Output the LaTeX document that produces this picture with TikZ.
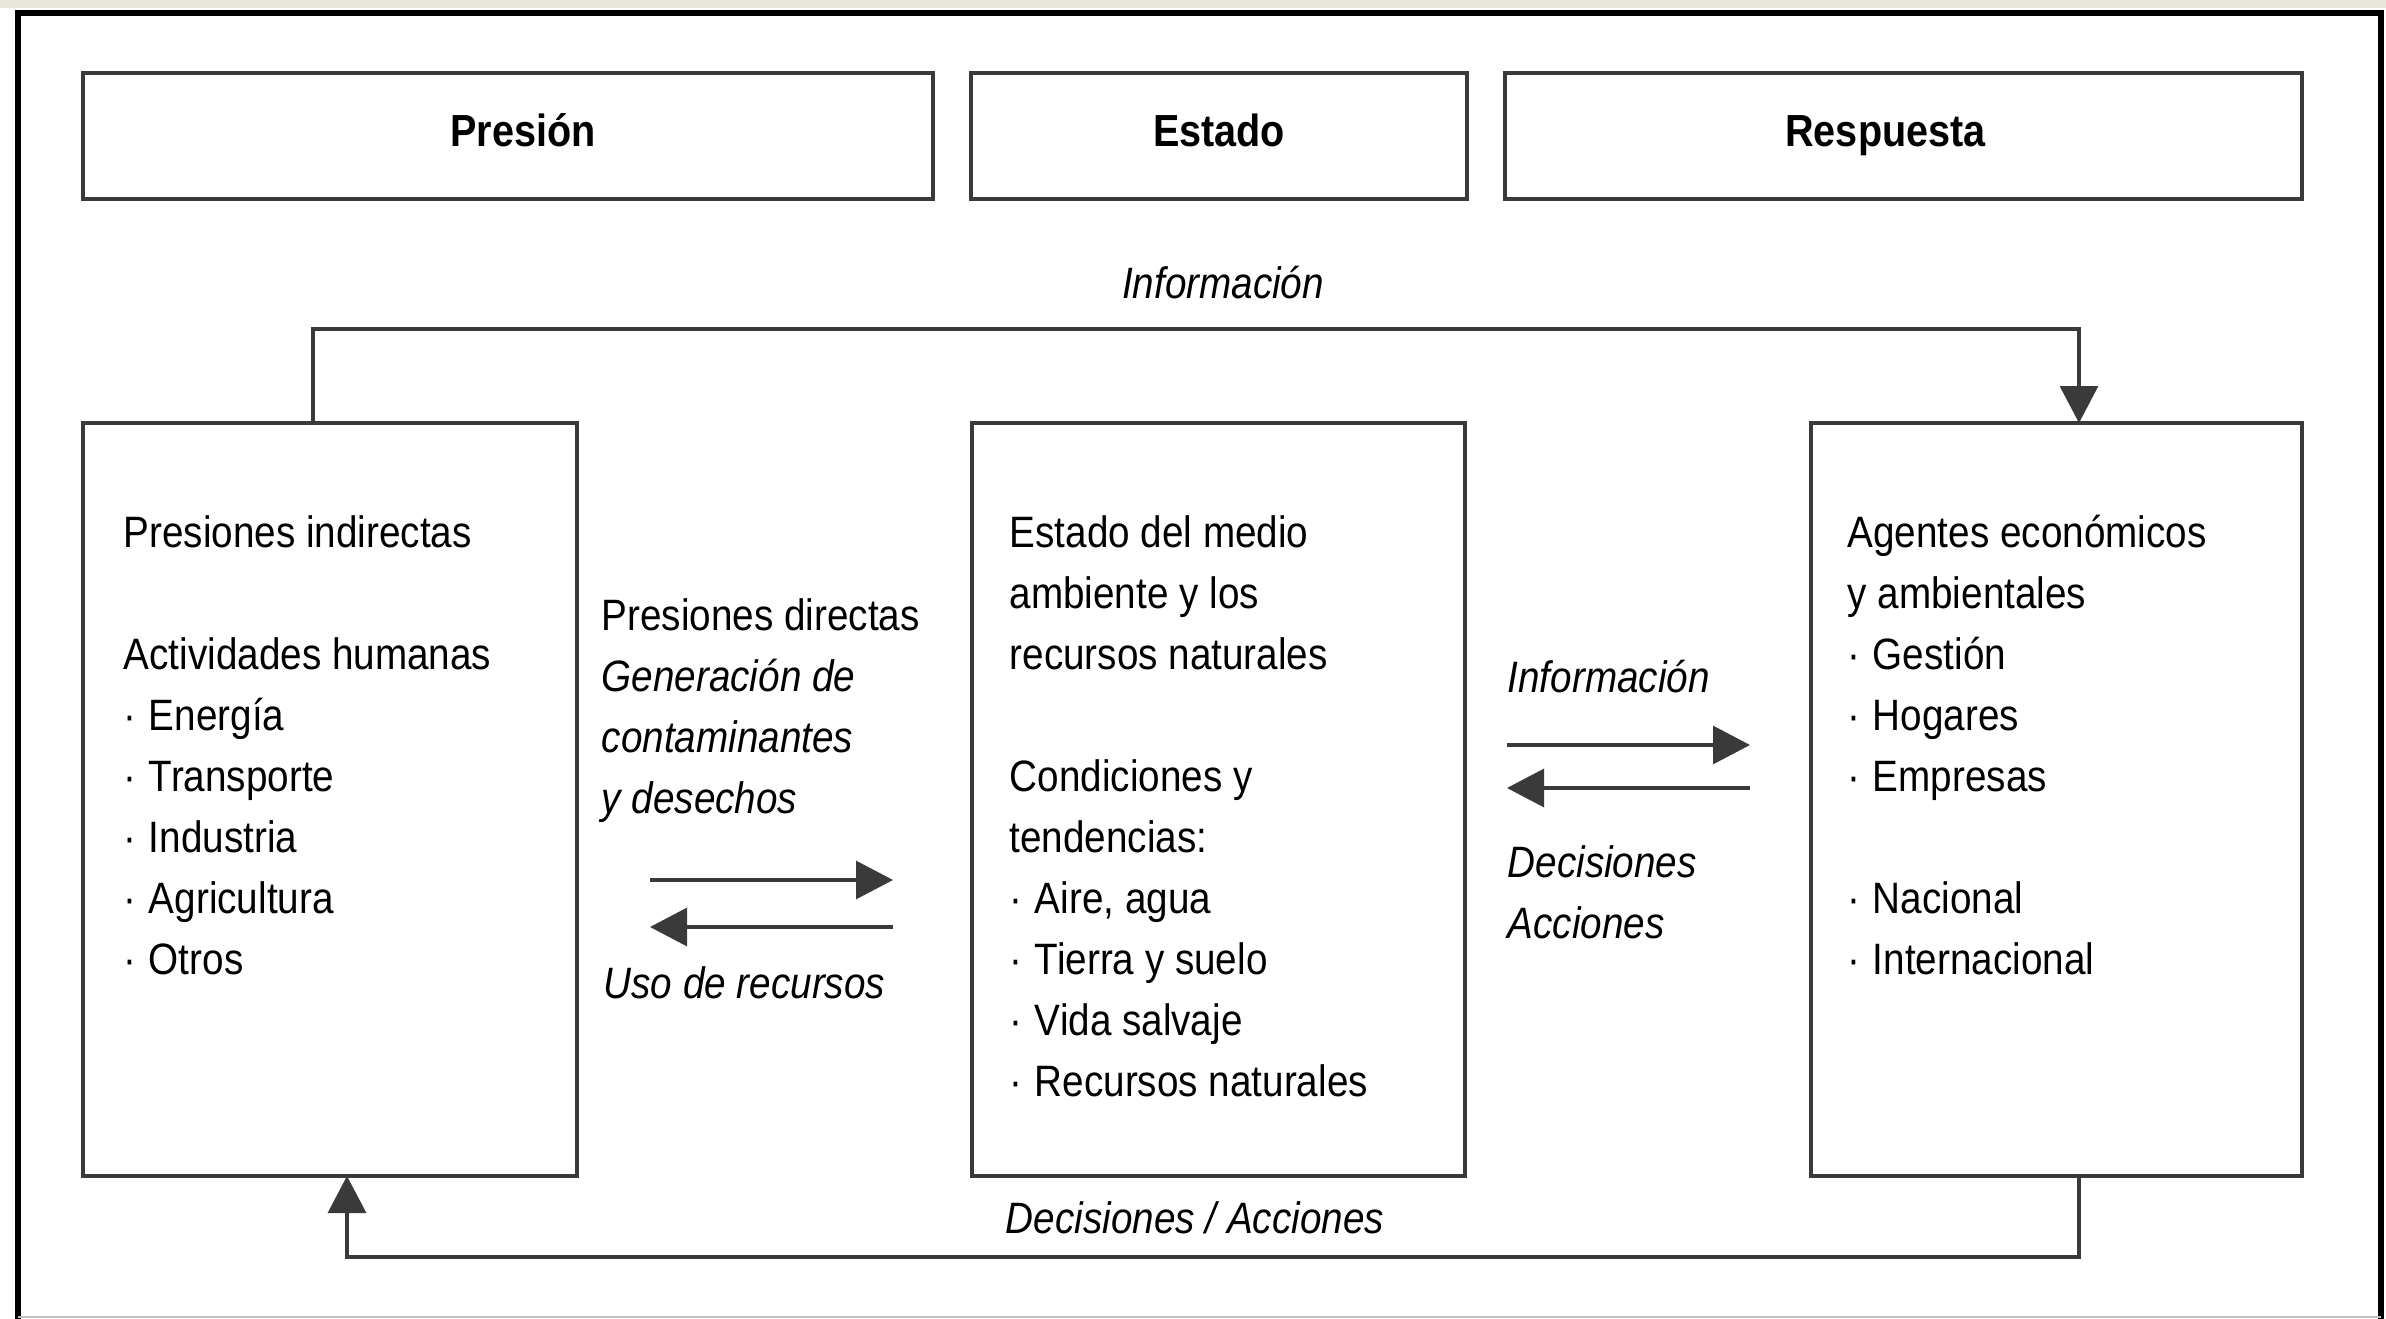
\documentclass[tikz,border=0pt]{standalone}
\usepackage{fontspec}
\setmainfont{Liberation Sans}[FakeStretch=0.88]
\usetikzlibrary{arrows.meta}

\definecolor{papel}{RGB}{230,231,218}
\definecolor{linea}{RGB}{58,58,58}

\newcommand{\pto}{·\hspace{0.28em}}

\tikzset{
  caja/.style={draw=linea, line width=1.15pt, outer sep=0pt, inner sep=0pt, anchor=north west},
  titulo/.style={caja, font=\fontsize{12.8}{15}\selectfont\bfseries, text height=9pt, text depth=3pt},
  texto/.style={anchor=north west, align=left, inner sep=0pt},
  linea1/.style={anchor=base west, inner sep=0pt},
  flecha/.style={draw=linea, line width=0.9pt, -{Triangle[length=3.7mm,width=3.8mm]}}
}

\begin{document}
\begin{tikzpicture}[x=1cm, y=-1cm, font=\fontsize{12.5}{17.36}\selectfont]
    \useasboundingbox (0,0) rectangle (23.86,13.19);
    \fill[white] (0,0) rectangle (23.86,13.19);
    \fill[papel] (0,0) rectangle (23.86,0.08);
 % marco
    \draw[line width=1.7pt] (0.18,13.19) -- (0.18,0.13) -- (23.81,0.13) -- (23.81,13.19);
    \draw[black!25, line width=0.4pt] (0.18,13.17) -- (23.81,13.17);

 % encabezados
    \node[titulo, minimum width=8.50cm, minimum height=1.26cm] (presion) at (0.83,0.73) {\hspace*{0.3cm}Presión};
    \node[titulo, minimum width=4.96cm, minimum height=1.26cm] (estado) at (9.71,0.73) {Estado};
    \node[titulo, minimum width=7.97cm, minimum height=1.26cm] (respuesta) at (15.05,0.73) {Respuesta\hspace*{0.36cm}};

 % cajas
    \node[caja, minimum width=4.94cm, minimum height=7.53cm] (indirectas) at (0.83,4.23) {};
    \node[caja, minimum width=4.93cm, minimum height=7.53cm] (medio) at (9.72,4.23) {};
    \node[caja, minimum width=4.91cm, minimum height=7.53cm] (agentes) at (18.11,4.23) {};

    \node[texto] (tindirectas) at (1.23,5.04) {\strut Presiones indirectas\\[17.36pt]
        Actividades humanas\\ \pto Energía\\ \pto Transporte\\ \pto Industria\\
        \pto Agricultura\\ \pto Otros};
    \node[texto] (tmedio) at (10.09,5.04) {\strut Estado del medio\\ ambiente y los\\
        recursos naturales\\[17.36pt] Condiciones y\\ tendencias:\\ \pto Aire, agua\\
        \pto Tierra y suelo\\ \pto Vida salvaje\\ \pto Recursos naturales};
    \node[texto] (tagentes) at (18.47,5.04) {\strut Agentes económicos\\ y ambientales\\
        \pto Gestión\\ \pto Hogares\\ \pto Empresas\\[17.36pt] \pto Nacional\\
        \pto Internacional};

 % presiones directas
    \node[texto] (tdirectas) at (6.01,5.87) {\strut Presiones directas\\ \textit{Generación de}\\
        \textit{contaminantes}\\ \textit{y desechos}};
    \node[linea1] (tuso) at (6.03,9.98) {\textit{Uso de recursos}};
    \coordinate (gen0) at (6.50,8.80);  \coordinate (gen1) at (8.93,8.80);
    \coordinate (uso0) at (8.93,9.27);  \coordinate (uso1) at (6.50,9.27);
    \draw[flecha] (gen0) -- (gen1);
    \draw[flecha] (uso0) -- (uso1);

 % informacion / decisiones
    \node[linea1] (tinfo) at (15.07,6.92) {\textit{Información}};
    \node[texto] (tdecis) at (15.07,8.34) {\strut\textit{Decisiones}\\ \textit{Acciones}};
    \coordinate (inf0) at (15.07,7.45); \coordinate (inf1) at (17.50,7.45);
    \coordinate (dec0) at (17.50,7.88); \coordinate (dec1) at (15.07,7.88);
    \draw[flecha] (inf0) -- (inf1);
    \draw[flecha] (dec0) -- (dec1);

 % lazos
    \node[anchor=base, inner sep=0pt] (infoarriba) at (12.23,2.98) {\textit{Información}};
    \draw[flecha] ([xshift=2.30cm]indirectas.north west) -- ++(0,-0.94) -| ([xshift=2.68cm]agentes.north west);
    \node[anchor=base, inner sep=0pt] (decabajo) at (11.95,12.33) {\textit{Decisiones / Acciones}};
    \draw[flecha] ([xshift=2.68cm]agentes.south west) -- ++(0,0.81) -| ([xshift=2.64cm]indirectas.south west);
\end{tikzpicture}
\end{document}
